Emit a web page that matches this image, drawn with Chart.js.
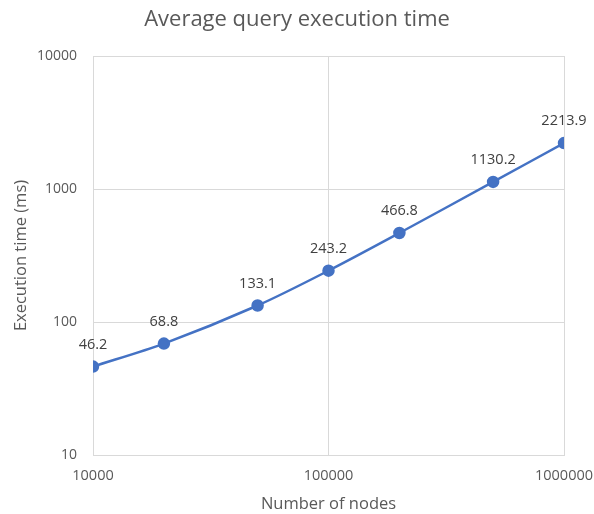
<!doctype html>
<html>
<head>
    <title>Average query execution time</title>
    <script src="https://cdn.jsdelivr.net/npm/chart.js@4/dist/chart.umd.min.js"></script>
    <style>
        html, body { margin: 0; padding: 0; background: #ffffff; }
        #wrap { width: 594px; height: 514px; }
    </style>
</head>
<body>
    <div id="wrap"><canvas id="canvas" width="594" height="514"></canvas></div>
    <script>
        // data
        var NODES = [10000, 20000, 50000, 100000, 200000, 500000, 1000000];
        var TIMES = [46.2, 68.8, 133.1, 243.2, 466.8, 1130.2, 2213.9];
        var X_TICKS = [10000, 100000, 1000000];
        var Y_TICKS = [10, 100, 1000, 10000];
        var TITLE = 'Average query execution time';

        var FONT = "'Open Sans', 'Noto Sans', sans-serif";
        var grey = '#595959';

        // value labels above each point + title centred on the whole canvas
        var extras = {
            id: 'extras',
            afterDatasetsDraw: function (chart) {
                var ctx = chart.ctx;
                var meta = chart.getDatasetMeta(0);
                ctx.save();
                ctx.font = '14.5px ' + FONT;
                ctx.fillStyle = '#404040';
                ctx.textAlign = 'center';
                ctx.textBaseline = 'middle';
                meta.data.forEach(function (pt, i) {
                    ctx.fillText(TIMES[i].toFixed(1), pt.x, pt.y - 22);
                });
                ctx.font = '22px ' + FONT;
                ctx.fillStyle = grey;
                ctx.fillText(TITLE, chart.width / 2, 20);
                ctx.restore();
            }
        };

        var ctx = document.getElementById('canvas').getContext('2d');
        var myChart = new Chart(ctx, {
            type: 'line',
            data: {
                datasets: [{
                    data: NODES.map(function (n, i) { return { x: n, y: TIMES[i] }; }),
                    borderColor: '#4472C4',
                    backgroundColor: '#4472C4',
                    borderWidth: 2.5,
                    pointRadius: 5,
                    pointHoverRadius: 5,
                    tension: 0.3,
                    fill: false
                }]
            },
            options: {
                responsive: false,
                animation: false,
                layout: { padding: { left: 0, right: 30, top: 56, bottom: 0 } },
                plugins: {
                    legend: { display: false },
                    tooltip: { enabled: false },
                    title: { display: false }
                },
                scales: {
                    x: {
                        type: 'logarithmic',
                        min: 10000,
                        max: 1000000,
                        afterBuildTicks: function (scale) {
                            scale.ticks = X_TICKS.map(function (v) { return { value: v }; });
                        },
                        afterFit: function (scale) {
                            scale.height = 59;
                            scale.paddingLeft = 0;
                            scale.paddingRight = 0;
                        },
                        ticks: {
                            color: grey,
                            font: { family: FONT, size: 14.5 },
                            padding: 12,
                            maxRotation: 0,
                            autoSkip: false,
                            callback: function (v) { return String(v); }
                        },
                        grid: { color: '#d9d9d9', lineWidth: 1, drawTicks: false },
                        border: { color: '#d9d9d9' },
                        title: {
                            display: true,
                            text: 'Number of nodes',
                            color: grey,
                            font: { family: FONT, size: 16.5 },
                            padding: { top: 0, bottom: 0 }
                        }
                    },
                    y: {
                        type: 'logarithmic',
                        min: 10,
                        max: 10000,
                        afterBuildTicks: function (scale) {
                            scale.ticks = Y_TICKS.map(function (v) { return { value: v }; });
                        },
                        afterFit: function (scale) {
                            scale.width = 93;
                            scale.paddingTop = 0;
                            scale.paddingBottom = 0;
                        },
                        ticks: {
                            color: grey,
                            font: { family: FONT, size: 14 },
                            padding: 16,
                            autoSkip: false,
                            callback: function (v) { return String(v); }
                        },
                        grid: { color: '#d9d9d9', lineWidth: 1, drawTicks: false },
                        border: { color: '#d9d9d9' },
                        title: {
                            display: true,
                            text: 'Execution time (ms)',
                            color: grey,
                            font: { family: FONT, size: 16.5 },
                            padding: { top: 11, bottom: 0 }
                        }
                    }
                }
            },
            plugins: [extras]
        });
    </script>
</body>
</html>
